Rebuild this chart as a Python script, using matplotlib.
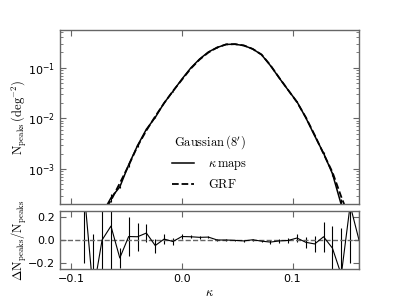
import numpy as np
import matplotlib
matplotlib.use("Agg")
import matplotlib.pyplot as plt
from matplotlib.ticker import LogLocator, NullFormatter

# peak counts per kappa bin
kappa = [-0.088, -0.080, -0.072, -0.064, -0.056, -0.048, -0.040, -0.032,
         -0.024, -0.016, -0.008, 0.000, 0.008, 0.016, 0.024, 0.032,
         0.040, 0.048, 0.056, 0.064, 0.072, 0.080, 0.088, 0.096,
         0.104, 0.112, 0.120, 0.128, 0.136, 0.144, 0.152, 0.160]

# log10 of GRF peak counts (deg^-2)
log_grf = [-4.35, -4.05, -3.88, -3.62, -3.28, -2.93, -2.55, -2.24,
           -1.96, -1.70, -1.46, -1.24, -1.02, -0.84, -0.70, -0.60,
           -0.54, -0.535, -0.56, -0.63, -0.74, -0.95, -1.20, -1.44,
           -1.68, -1.98, -2.33, -2.70, -3.06, -3.55, -4.00, -4.40]

# fractional difference kappa maps vs GRF
ratio = [0.40, -0.45, 0.00, 0.12, -0.155, 0.030, 0.028, 0.060,
         -0.048, 0.008, -0.013, 0.030, 0.028, 0.023, 0.025, 0.000,
         0.000, -0.003, -0.008, 0.002, -0.010, -0.018, -0.008, -0.004,
         0.017, -0.020, -0.034, 0.028, -0.070, -0.30, 0.30, 0.00]

ratio_err = [0.60, 0.50, 0.40, 0.40, 0.09, 0.17, 0.12, 0.08,
             0.06, 0.04, 0.03, 0.02, 0.015, 0.012, 0.010, 0.008,
             0.007, 0.007, 0.008, 0.009, 0.011, 0.014, 0.018, 0.024,
             0.035, 0.05, 0.07, 0.13, 0.19, 0.40, 0.50, 0.60]

k = np.array(kappa)
n_grf = 10 ** np.array(log_grf)
d = np.array(ratio)
err = np.array(ratio_err)
n_kap = n_grf * (1 + d)
n_err = n_grf * err * 0.5

spine_col = "0.4"
plt.rcParams["font.size"] = 8
plt.rcParams["mathtext.fontset"] = "dejavusans"

fig = plt.figure(figsize=(3.99, 2.99), dpi=100)
ax1 = fig.add_axes([60 / 399, 1 - 204 / 299, 299 / 399, 174 / 299])
ax2 = fig.add_axes([60 / 399, 1 - 269 / 299, 299 / 399, 58 / 299])

ax1.plot(k, n_kap, color="k", lw=1.1, label=r"$\kappa\,\rm maps$")
ax1.errorbar(k, n_kap, yerr=n_err, fmt="none", ecolor="k", elinewidth=0.8, capsize=0)
ax1.plot(k, n_grf, color="k", lw=1.3, ls="--", label=r"$\rm GRF$")
ax1.set_yscale("log")
ax1.set_xlim(-0.11, 0.16)
ax1.set_ylim(2.04e-4, 0.555)
ax1.set_xticks([-0.1, 0.0, 0.1])
ax1.set_xticklabels([])
ax1.yaxis.set_major_locator(LogLocator(base=10, numticks=10))
ax1.yaxis.set_minor_locator(LogLocator(base=10, subs=np.arange(2, 10), numticks=10))
ax1.yaxis.set_minor_formatter(NullFormatter())
ax1.set_ylabel(r"$\rm N_{peaks}\,(deg^{-2})$", math_fontfamily="cm", fontsize=9)
ax1.yaxis.set_label_coords(-0.105, 0.5)

leg = ax1.legend(loc="center", bbox_to_anchor=(0.5, 0.24), frameon=False,
                 title=r"$\rm Gaussian\,(8^{\prime})$", handlelength=1.8,
                 handletextpad=1.1, prop={"math_fontfamily": "cm", "size": 9})
leg.get_title().set_math_fontfamily("cm")
leg.get_title().set_fontsize(9)

ax2.errorbar(k, d, yerr=err, color="k", lw=0.8, elinewidth=0.8, capsize=0)
ax2.axhline(0.0, color="0.4", ls="--", lw=1.0)
ax2.set_xlim(-0.11, 0.16)
ax2.set_ylim(-0.25, 0.25)
ax2.set_xticks([-0.1, 0.0, 0.1])
ax2.set_yticks([-0.2, 0.0, 0.2])
ax2.set_xlabel(r"$\kappa$", math_fontfamily="cm", fontsize=9)
ax2.xaxis.set_label_coords(0.5, -0.30)
ax2.set_ylabel(r"$\Delta\rm N_{peaks}/N_{peaks}$", math_fontfamily="cm", fontsize=9)
ax2.yaxis.set_label_coords(-0.105, 0.5)

for ax in (ax1, ax2):
    for s in ax.spines.values():
        s.set_color(spine_col)
        s.set_linewidth(1.0)
    ax.tick_params(which="both", direction="in", top=True, right=True,
                   color=spine_col, labelsize=8)
    ax.tick_params(which="major", length=4)
    ax.tick_params(which="minor", length=2)

fig.savefig("out.png", dpi=100)
